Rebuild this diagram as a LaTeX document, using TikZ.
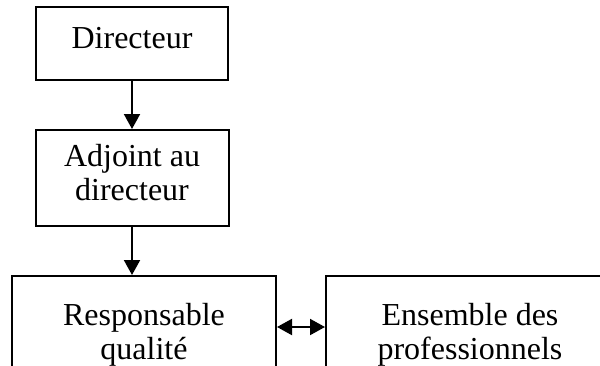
\documentclass[tikz,border=0pt]{standalone}
\usepackage{fontspec}
\setmainfont{Liberation Serif}
\usetikzlibrary{arrows.meta,positioning}

\begin{document}
\begin{tikzpicture}[x=0.5pt,y=-0.5pt,
        box/.style={draw,line width=1pt,align=center,inner sep=0pt,text depth=5.5pt,
            font=\fontsize{16}{17}\selectfont},
        link/.style={line width=1pt,-{Triangle[length=7.5pt,width=8pt]}},
        bilink/.style={line width=1pt,{Triangle[length=7.5pt,width=8pt]}-{Triangle[length=7.5pt,width=8pt]}}]
    % Frame
    \useasboundingbox (0,0) rectangle (600,365);
    \clip (0,0) rectangle (600,365);
    % Boxes
    \node[box,minimum width=96pt,minimum height=36.5pt] (dir) at (132,43.5) {Directeur};
    \node[box,minimum width=96.5pt,minimum height=48pt,below=24pt of dir] (adj) {Adjoint au\\directeur};
    \node[box,minimum width=132pt,minimum height=61pt,below=24pt of adj,xshift=6pt] (resp) {Responsable\\qualité};
    \node[box,minimum width=144pt,minimum height=61pt,right=24pt of resp] (ens) {Ensemble des\\professionnels};
    % Links
    \draw[link] (dir) -- (adj);
    \draw[link] (adj.south) -- (adj.south |- resp.north);
    \draw[bilink] ([yshift=5pt]resp.east) -- ([yshift=5pt]ens.west);
\end{tikzpicture}
\end{document}
